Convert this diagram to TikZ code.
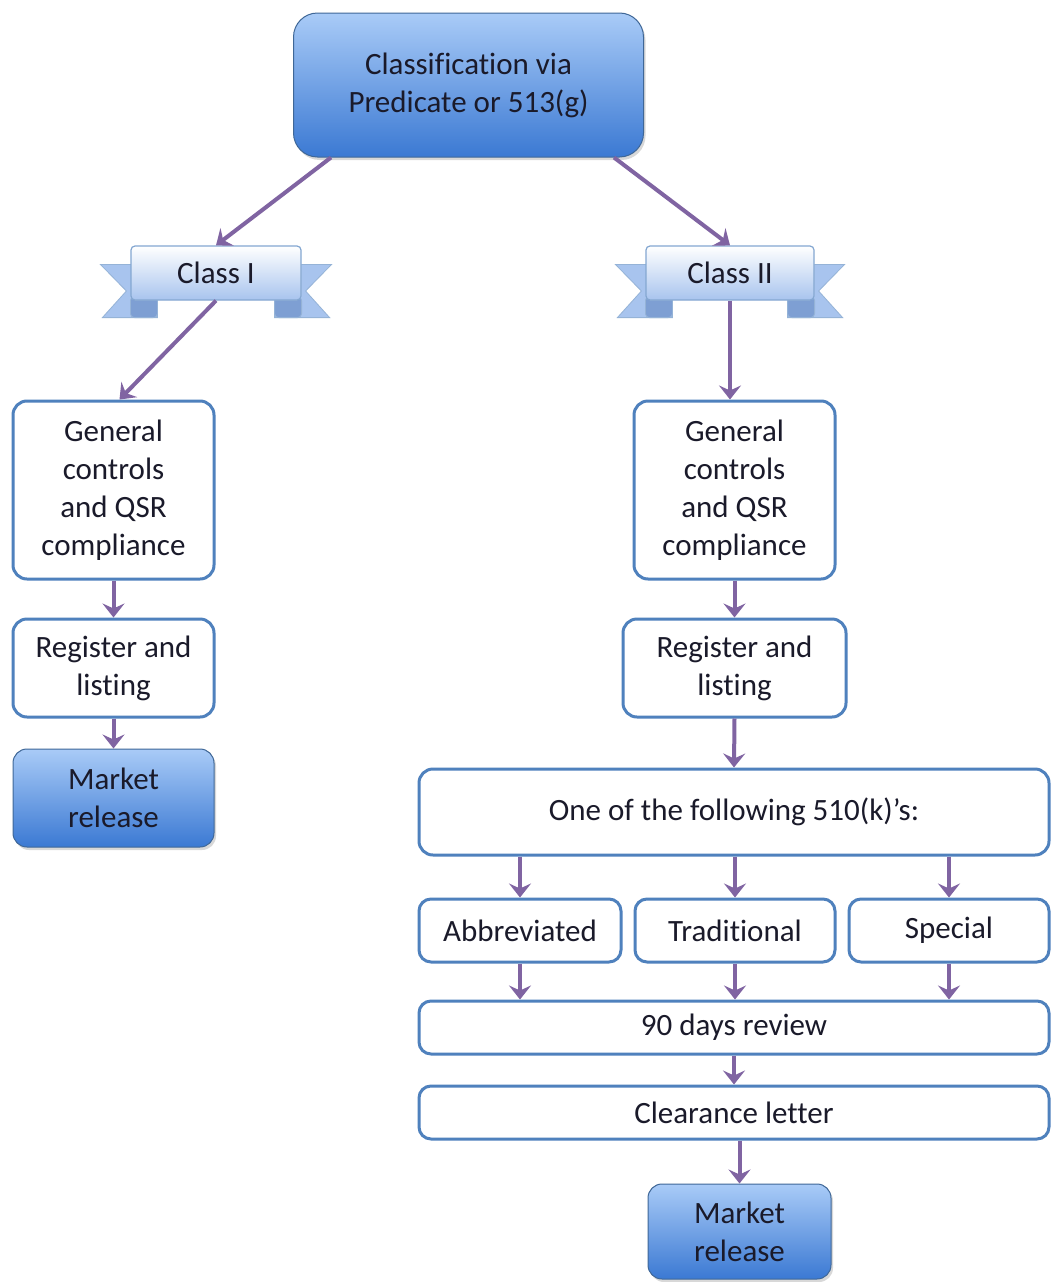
\documentclass[tikz,border=0pt]{standalone}
\usepackage{fontspec}
\setmainfont{Carlito}[Ligatures={NoCommon}]
\usetikzlibrary{arrows.meta, positioning, calc, backgrounds, shadows}
\definecolor{boxblue}{HTML}{4F81BD}
\definecolor{arrowpurple}{HTML}{8064A2}
\definecolor{lightblue}{HTML}{A9CBF7}
\definecolor{darkblue}{HTML}{3B79D3}
\definecolor{tailblue}{HTML}{A8C4EE}
\definecolor{foldblue}{HTML}{7E9FD3}
\definecolor{inktext}{HTML}{1A1A2A}
\tikzset{
    box/.style={draw=boxblue, line width=3pt, fill=white, rounded corners=14pt, align=center, text=inktext, font=\fontsize{31}{38}\selectfont, inner sep=0pt},
    highlightbox/.style={box, draw=boxblue!80!black, line width=1pt, top color=lightblue, bottom color=darkblue, drop shadow={opacity=0.3, shadow xshift=2pt, shadow yshift=-3pt}},
    bannerbox/.style={box, draw=boxblue!70, line width=1.2pt, rounded corners=4pt, top color=white, bottom color=tailblue},
    tail/.style={draw=boxblue!60, line width=0.8pt, fill=tailblue},
    fold/.style={draw=boxblue!60, line width=0.8pt, fill=foldblue},
    arr/.style={-{Stealth[length=14pt, width=22pt, inset=5pt]}, line width=4pt, draw=arrowpurple}
}
% ribbon ends behind a banner node
\newcommand{\bannertails}[1]{%
  \begin{scope}[on background layer]
    \draw[tail] ($(#1.north west)+(-30,-19)$) -- ($(#1.west)+(-4,-18)$) -- ($(#1.south west)+(-28,-17)$) -- ($(#1.south west)+(27,-17)$) -- ($(#1.north west)+(27,-19)$) -- cycle;
    \draw[tail] ($(#1.north east)+(30,-19)$) -- ($(#1.east)+(4,-18)$) -- ($(#1.south east)+(28,-17)$) -- ($(#1.south east)+(-27,-17)$) -- ($(#1.north east)+(-27,-19)$) -- cycle;
    \draw[fold, rounded corners=4pt] ($(#1.south west)+(0,4)$) rectangle ($(#1.south west)+(27,-17)$);
    \draw[fold, rounded corners=4pt] ($(#1.south east)+(0,4)$) rectangle ($(#1.south east)+(-27,-17)$);
  \end{scope}}

\begin{document}
\begin{tikzpicture}[x=1pt, y=1pt]
    \begin{scope}[on background layer]
      \fill[white] (0,0) rectangle (1053,-1282);
    \end{scope}
    \useasboundingbox (0,0) rectangle (1053,-1282);

    % top
    \node[highlightbox, rounded corners=24pt, minimum width=350, minimum height=144] (top) at (468.5,-85) {Classification via\\Predicate or 513(g)};

    % class banners
    \node[bannerbox, minimum width=170, minimum height=54] (cls1) at (216,-273) {Class I};
    \node[bannerbox, minimum width=168, minimum height=54] (cls2) at (730,-273) {Class II};
    \bannertails{cls1}
    \bannertails{cls2}

    % class I branch
    \node[box, minimum width=201, minimum height=178] (gen1) at (113.5,-490) {General\\controls\\and QSR\\compliance};
    \node[box, minimum width=201, minimum height=98] (reg1) at (113.5,-668) {Register and\\listing};
    \node[highlightbox, minimum width=201, minimum height=98] (mkt1) at (113.5,-798) {Market\\release};

    % class II branch
    \node[box, minimum width=201, minimum height=178] (gen2) at (734.5,-490) {General\\controls\\and QSR\\compliance};
    \node[box, minimum width=223, minimum height=98] (reg2) at (734.5,-668) {Register and\\listing};
    \node[box, minimum width=630, minimum height=86] (one) at (734,-812) {One of the following 510(k)’s:};
    \node[box, rounded corners=12pt, minimum width=202, minimum height=63] (abbr) at (520,-930.5) {Abbreviated};
    \node[box, rounded corners=12pt, minimum width=200, minimum height=63] (trad) at (735,-930.5) {Traditional};
    \node[box, rounded corners=12pt, minimum width=200, minimum height=63] (spec) at (949,-930.5) {Special};
    \node[box, rounded corners=12pt, minimum width=630, minimum height=53] (rev) at (734,-1027.5) {90 days review};
    \node[box, rounded corners=12pt, minimum width=630, minimum height=53] (clr) at (734,-1112.5) {Clearance letter};
    \node[highlightbox, minimum width=183, minimum height=95] (mkt2) at (739.5,-1231.5) {Market\\release};

    % connectors
    \draw[arr] ([xshift=38pt]top.south west) -- (cls1.north);
    \draw[arr] ([xshift=-30pt]top.south east) -- (cls2.north);
    \draw[arr] (cls1.south) -- ([xshift=6pt]gen1.north);
    \draw[arr] (cls2.south) -- (cls2.south |- gen2.north);
    \draw[arr] (gen1.south) -- (reg1.north);
    \draw[arr] (reg1.south) -- (mkt1.north);
    \draw[arr] (gen2.south) -- (reg2.north);
    \draw[arr] (reg2.south) -- (one.north);
    \draw[arr] (abbr.north |- one.south) -- (abbr.north);
    \draw[arr] (trad.north |- one.south) -- (trad.north);
    \draw[arr] (spec.north |- one.south) -- (spec.north);
    \draw[arr] (abbr.south) -- (abbr.south |- rev.north);
    \draw[arr] (trad.south) -- (trad.south |- rev.north);
    \draw[arr] (spec.south) -- (spec.south |- rev.north);
    \draw[arr] (rev.south) -- (clr.north);
    \draw[arr] (clr.south -| mkt2.north) -- (mkt2.north);
\end{tikzpicture}
\end{document}
